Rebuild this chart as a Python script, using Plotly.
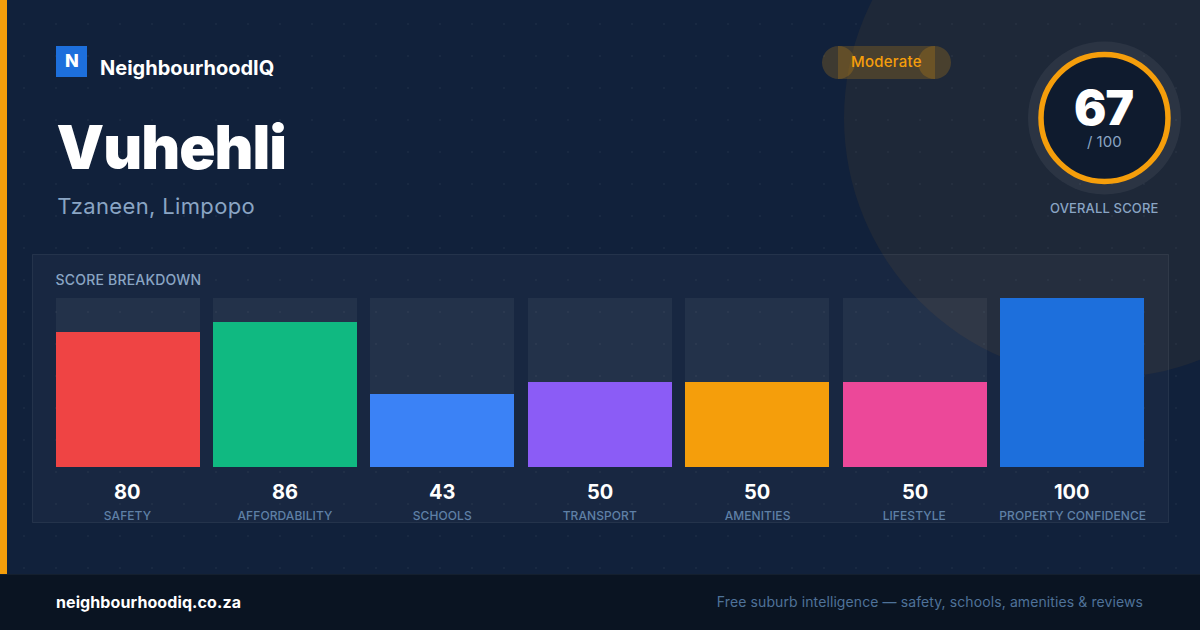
import base64
import plotly.graph_objects as go

# ---- data ----
suburb = "Vuhehli"
location = "Tzaneen, Limpopo"
brand = "NeighbourhoodIQ"
band = "Moderate"
overall_score = 67
categories = ["SAFETY", "AFFORDABILITY", "SCHOOLS", "TRANSPORT", "AMENITIES", "LIFESTYLE", "PROPERTY CONFIDENCE"]
scores = [80, 86, 43, 50, 50, 50, 100]
full_scale = [100, 100, 100, 100, 100, 100, 100]
bar_colors = ["#ef4444", "#10b981", "#3b82f6", "#8b5cf6", "#f59e0b", "#ec4899", "#1d6fdc"]

W, H = 1200, 630
FONT = "Inter"
BG = "#11213b"
AMBER = "#f59e0b"
PITCH = 157.4
FIRST_CENTRE = 127.6


def X(px):
    return px / W


def Y(px):
    return 1 - px / H


def rect(x0, y0, x1, y1, fill, line=None, kind="rect", layer="below"):
    return dict(type=kind, xref="paper", yref="paper", x0=X(x0), x1=X(x1), y0=Y(y0), y1=Y(y1),
                fillcolor=fill, line=dict(color=line or "rgba(0,0,0,0)", width=1 if line else 0), layer=layer)


def circle(cx, cy, r, fill, line=None, width=0, layer="below"):
    s = rect(cx - r, cy - r, cx + r, cy + r, fill, kind="circle", layer=layer)
    if line:
        s["line"] = dict(color=line, width=width)
    return s


def text(px, py, s, size, color, weight=400, anchor="left", xref="paper", yref="paper"):
    return dict(text=s, x=X(px) if xref == "paper" else px, y=Y(py), xref=xref, yref=yref,
                xanchor=anchor, yanchor="middle", showarrow=False, borderpad=0, borderwidth=0,
                font=dict(family=FONT, size=size, color=color, weight=weight))


dots = ('<svg xmlns="http://www.w3.org/2000/svg" width="1200" height="574"><defs>'
        '<pattern id="p" width="32" height="32" patternUnits="userSpaceOnUse" x="8" y="8">'
        '<rect x="15" y="15" width="2" height="2" fill="#ffffff" fill-opacity="0.035"/></pattern></defs>'
        '<rect width="1200" height="574" fill="url(#p)"/></svg>')
dots_uri = "data:image/svg+xml;base64," + base64.b64encode(dots.encode()).decode()

fig = go.Figure()
fig.add_bar(x=categories, y=full_scale, marker=dict(color="rgba(255,255,255,0.05)", line_width=0),
            width=144 / PITCH, hoverinfo="skip", showlegend=False)
fig.add_bar(x=categories, y=scores, marker=dict(color=bar_colors, line_width=0),
            width=144 / PITCH, showlegend=False)

shapes = [
    circle(1104, 118, 260, "rgba(245,158,11,0.06)"),
    rect(32.5, 254.5, 1168.5, 522.5, "rgba(255,255,255,0.03)", "rgba(255,255,255,0.07)"),
    rect(0, 574, 1200, 630, "#0a1422"),
    rect(0, 574, 1200, 575, "#141f2e"),
    rect(0, 0, 7, 574, AMBER),
    rect(56, 46, 87, 77, "#1d6fdc"),
    rect(838, 46, 935, 79, "rgba(245,158,11,0.2)"),
    circle(838.5, 62.5, 16.5, "rgba(245,158,11,0.2)"),
    circle(934.5, 62.5, 16.5, "rgba(245,158,11,0.2)"),
    circle(1104.5, 118, 76.5, "rgba(255,255,255,0.06)"),
    circle(1104.5, 118, 63.5, "#0f1b2e", AMBER, 5.5),
]

anns = [
    text(71.5, 60, "N", 18, "#ffffff", 800, "center"),
    text(100, 68, brand, 20, "#ffffff", 700),
    text(52.5, 147, suburb, 60, "#ffffff", 900),
    text(60, 206, location, 22, "#8aa5c4", 400),
    text(886, 61.5, band, 15, AMBER, 500, "center"),
    text(1103, 107.5, str(overall_score), 48, "#ffffff", 900, "center"),
    text(1104.5, 141.5, "/ 100", 15, "#8aa5c4", 400, "center"),
    text(1104.5, 208, "OVERALL SCORE", 13, "#8aa5c4", 500, "center"),
    text(57, 279.5, "SCORE BREAKDOWN", 14, "#8aa5c4", 500),
    text(56.5, 602, "neighbourhoodiq.co.za", 16, "#ffffff", 700),
    text(1140, 601.5, "Free suburb intelligence — safety, schools, amenities &amp; reviews", 14, "#4f7299", 400, "right"),
]
for cat, val in zip(categories, scores):
    anns.append(text(cat, 491.5, str(val), 20, "#ffffff", 700, "center", xref="x"))
    anns.append(text(cat, 515, cat, 12, "#5f80a6", 500, "center", xref="x"))

fig.update_layout(
    width=W, height=H, autosize=False, margin=dict(l=0, r=0, t=0, b=0, pad=0),
    paper_bgcolor=BG, plot_bgcolor="rgba(0,0,0,0)", barmode="overlay", bargap=0, bargroupgap=0, showlegend=False,
    xaxis=dict(domain=[X(56), X(1144)], type="category", categoryorder="array", categoryarray=categories,
               range=[(56 - FIRST_CENTRE) / PITCH, (1144 - FIRST_CENTRE) / PITCH], visible=False, fixedrange=True),
    yaxis=dict(domain=[Y(466.9), Y(298)], range=[0, 100], visible=False, fixedrange=True),
    shapes=shapes, annotations=anns,
    images=[dict(source=dots_uri, xref="paper", yref="paper", x=0, y=1, sizex=1200 / W, sizey=574 / H,
                 xanchor="left", yanchor="top", sizing="stretch", layer="below")],
)

post = """
document.documentElement.style.margin='0';document.body.style.margin='0';document.body.style.overflow='hidden';
var sp={'SAFETY':0.08,'AFFORDABILITY':0.08,'SCHOOLS':0.08,'TRANSPORT':0.08,'AMENITIES':0.08,'LIFESTYLE':0.08,'PROPERTY CONFIDENCE':0.08,'SCORE BREAKDOWN':0.2,'OVERALL SCORE':0.15,'Tzaneen, Limpopo':0.35,'neighbourhoodiq.co.za':0.1,'Vuhehli':-1,'67':-1,'Moderate':0.25};
document.querySelectorAll('.annotation-text').forEach(function(t){var k=t.textContent;if(sp[k]){t.style.letterSpacing=sp[k]+'px';}else if(k.indexOf('Free suburb')==0){t.style.letterSpacing='0.1px';}});
"""
fig.write_html("out.html", post_script=post, config=dict(displayModeBar=False))
